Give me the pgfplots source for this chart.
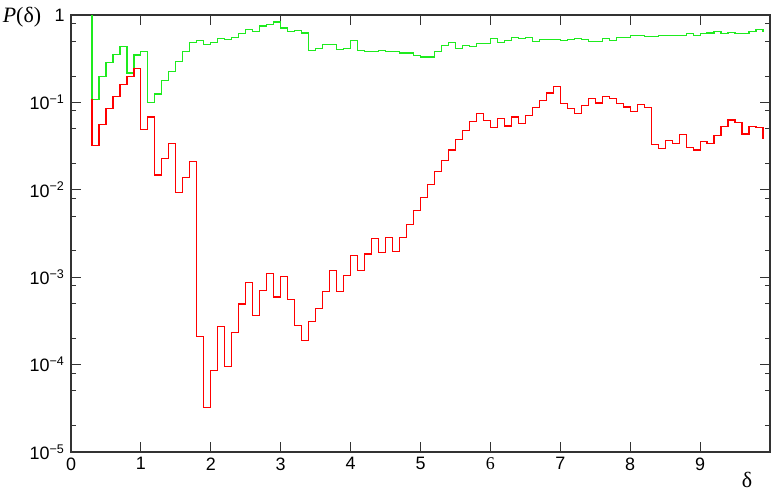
\documentclass[border=0pt]{standalone}
\usepackage{fontspec}
\setmainfont{Liberation Sans}
\newfontfamily\serif{Liberation Serif}
\usepackage{pgfplots}
\pgfplotsset{compat=1.18}
\definecolor{hgreen}{RGB}{30,235,30}
\definecolor{hred}{RGB}{255,0,0}

\begin{document}
\begin{tikzpicture}
\begin{axis}[
  scale only axis, width=699bp, height=437bp,
  xmin=0, xmax=10,
  ymode=log, ymin=1e-5, ymax=1,
  xtick={0,...,9},
  xticklabels={0,1,2,3,4,5,{\serif 6},7,8,9},
  ytick={1e-5,1e-4,1e-3,1e-2,1e-1,1},
  yticklabels={10\textsuperscript{−5},10\textsuperscript{−4},10\textsuperscript{−3},10\textsuperscript{−2},10\textsuperscript{−1},1},
  minor ytick={2e-5,5e-5,8e-5,2e-4,5e-4,8e-4,2e-3,5e-3,8e-3,0.02,0.05,0.08,0.2,0.5,0.8},
  tick align=inside,
  major tick length=10bp, minor tick length=5bp,
  axis line style={line width=1.1bp, black!80},
  tick style={line width=1.1bp, black!80},
  tick label style={font=\fontsize{18}{20}\selectfont},
  xticklabel style={yshift=-2bp},
  yticklabel style={xshift=-3bp},
]
% green series: step histogram, bins of 0.1
\addplot[const plot mark left, hgreen, line width=1.2bp] coordinates {
 (0.3,1.5) (0.3,0.108) (0.4,0.197) (0.5,0.287) (0.6,0.351) (0.7,0.436)
 (0.8,0.217) (0.9,0.348) (1.0,0.383) (1.1,0.099) (1.2,0.125) (1.3,0.179)
 (1.4,0.227) (1.5,0.295) (1.6,0.380) (1.7,0.481) (1.8,0.507) (1.9,0.456)
 (2.0,0.481) (2.1,0.543) (2.2,0.520) (2.3,0.552) (2.4,0.613) (2.5,0.681)
 (2.6,0.641) (2.7,0.750) (2.8,0.783) (2.9,0.833) (3.0,0.711) (3.1,0.647)
 (3.2,0.663) (3.3,0.624) (3.4,0.393) (3.5,0.411) (3.6,0.464) (3.7,0.456)
 (3.8,0.400) (3.9,0.411) (4.0,0.511) (4.1,0.393) (4.2,0.383) (4.3,0.383)
 (4.4,0.393) (4.5,0.383) (4.6,0.383) (4.7,0.367) (4.8,0.367) (4.9,0.342)
 (5.0,0.330) (5.1,0.330) (5.2,0.383) (5.3,0.448) (5.4,0.481) (5.5,0.418)
 (5.6,0.452) (5.7,0.433) (5.8,0.472) (5.9,0.472) (6.0,0.538) (6.1,0.481)
 (6.2,0.507) (6.3,0.553) (6.4,0.538) (6.5,0.558) (6.6,0.502) (6.7,0.524)
 (6.8,0.524) (6.9,0.529) (7.0,0.507) (7.1,0.524) (7.2,0.534) (7.3,0.520)
 (7.4,0.493) (7.5,0.493) (7.6,0.534) (7.7,0.515) (7.8,0.548) (7.9,0.548)
 (8.0,0.582) (8.1,0.578) (8.2,0.567) (8.3,0.572) (8.4,0.578) (8.5,0.587)
 (8.6,0.582) (8.7,0.587) (8.8,0.608) (8.9,0.578) (9.0,0.608) (9.1,0.624)
 (9.2,0.641) (9.3,0.613) (9.4,0.630) (9.5,0.619) (9.6,0.619) (9.7,0.641)
 (9.8,0.676) (9.9,0.635)
};
% red series
\addplot[const plot mark left, hred, line width=1.2bp] coordinates {
 (0.3,0.108) (0.3,0.0319) (0.4,0.0553) (0.5,0.0848) (0.6,0.118) (0.7,0.159)
 (0.8,0.199) (0.9,0.246) (1.0,0.0489) (1.1,0.0681) (1.2,0.0148) (1.3,0.0229)
 (1.4,0.0342) (1.5,0.00925) (1.6,0.0139) (1.7,0.0210) (1.8,2.10e-4) (1.9,3.22e-5)
 (2.0,8.48e-5) (2.1,2.73e-4) (2.2,9.49e-5) (2.3,2.31e-4) (2.4,4.93e-4) (2.5,8.62e-4)
 (2.6,3.64e-4) (2.7,6.99e-4) (2.8,1.11e-3) (2.9,5.93e-4) (3.0,1.02e-3) (3.1,5.52e-4)
 (3.2,2.82e-4) (3.3,1.89e-4) (3.4,3.13e-4) (3.5,4.37e-4) (3.6,6.87e-4) (3.7,1.20e-3)
 (3.8,6.87e-4) (3.9,1.04e-3) (4.0,1.79e-3) (4.1,1.19e-3) (4.2,1.84e-3) (4.3,2.77e-3)
 (4.4,1.92e-3) (4.5,2.82e-3) (4.6,1.97e-3) (4.7,2.82e-3) (4.8,4.00e-3) (4.9,5.77e-3)
 (5.0,8.11e-3) (5.1,0.0116) (5.2,0.0162) (5.3,0.0216) (5.4,0.0285) (5.5,0.0377)
 (5.6,0.0477) (5.7,0.0608) (5.8,0.0750) (5.9,0.0619) (6.0,0.0515) (6.1,0.0652)
 (6.2,0.0538) (6.3,0.0681) (6.4,0.0572) (6.5,0.0705) (6.6,0.0877) (6.7,0.106)
 (6.8,0.128) (6.9,0.151) (7.0,0.0966) (7.1,0.0855) (7.2,0.0750) (7.3,0.0925)
 (7.4,0.111) (7.5,0.0983) (7.6,0.118) (7.7,0.110) (7.8,0.0974) (7.9,0.0885)
 (8.0,0.079) (8.1,0.0949) (8.2,0.0869) (8.3,0.0327) (8.4,0.0295) (8.5,0.0370)
 (8.6,0.0342) (8.7,0.0429) (8.8,0.0303) (8.9,0.0285) (9.0,0.0354) (9.1,0.0336)
 (9.2,0.0422) (9.3,0.0525) (9.4,0.0630) (9.5,0.0587) (9.6,0.0436) (9.7,0.0534)
 (9.8,0.0515) (9.9,0.0380)
};
\end{axis}
\node[font=\serif\fontsize{22}{24}\selectfont] at ([xshift=-49bp,yshift=-2bp]current axis.north west) {\textit{P}(δ)};
\node[font=\serif\fontsize{22}{24}\selectfont] at ([xshift=-23bp,yshift=-28bp]current axis.south east) {δ};
\pgfresetboundingbox
\useasboundingbox ([xshift=-71bp,yshift=-41bp]current axis.south west) rectangle ([xshift=4bp,yshift=15bp]current axis.north east);
\end{tikzpicture}
\end{document}
